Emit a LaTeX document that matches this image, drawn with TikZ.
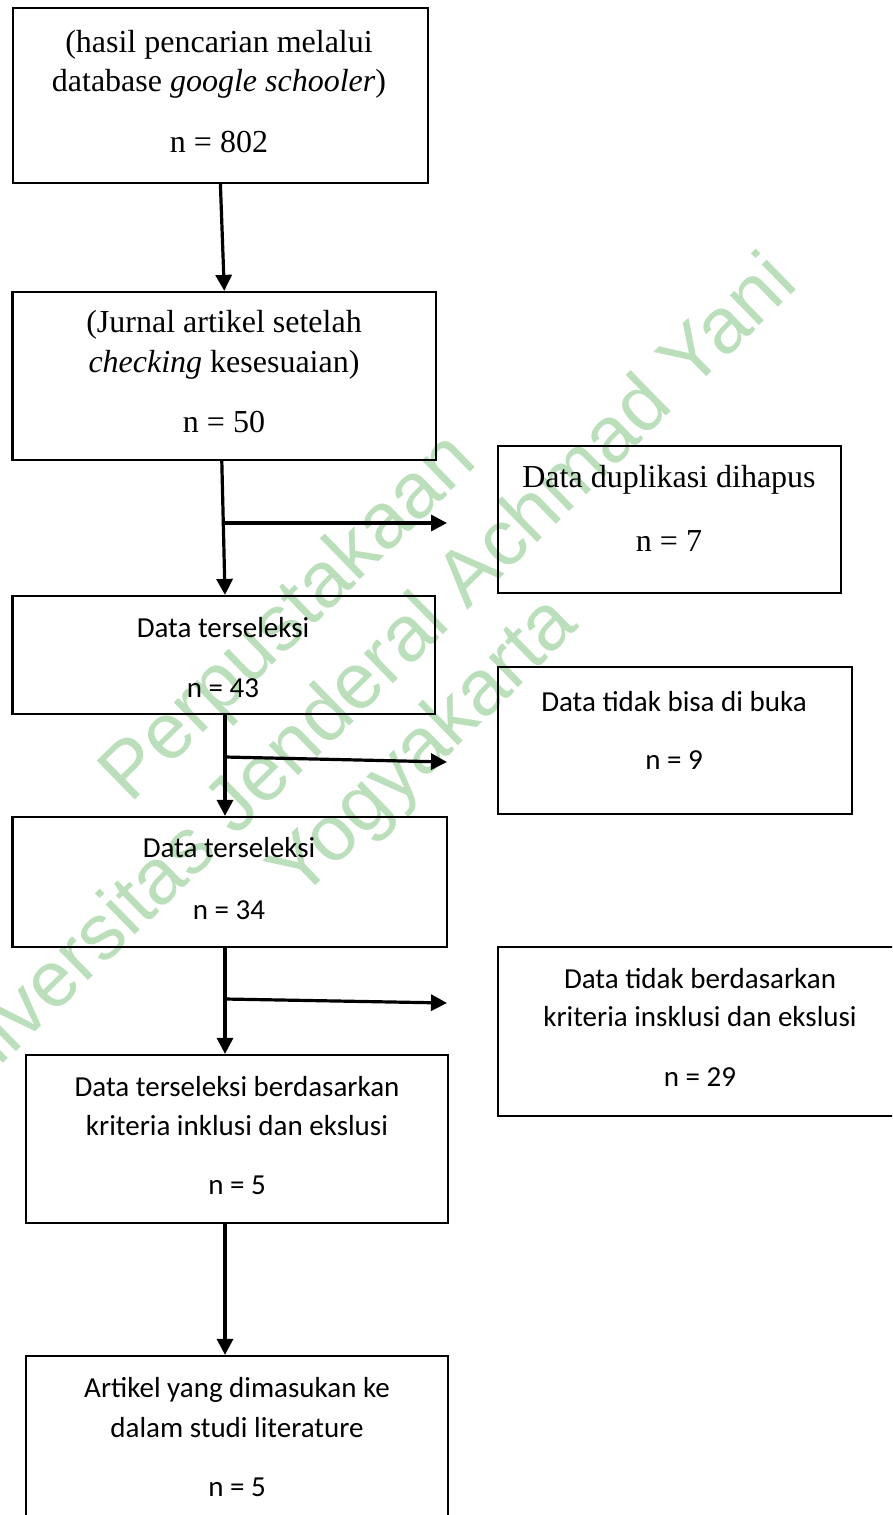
\documentclass[tikz,border=0pt]{standalone}
\usepackage{fontspec}
\setmainfont{Liberation Serif}
\newfontfamily\calfont{Carlito}
\newfontfamily\wmfont{Liberation Sans}
\usetikzlibrary{arrows.meta}
\definecolor{wmgreen}{RGB}{186,223,186}
\begin{document}
\begin{tikzpicture}[x=1pt,y=-1pt,
  box/.style={draw, line width=2.2pt, inner sep=0pt},
  ser/.style={anchor=base, inner sep=0pt, font=\fontsize{32}{38}\selectfont},
  cal/.style={anchor=base, inner sep=0pt, font=\calfont\fontsize{29}{35}\selectfont},
  arr/.style={line width=3.2pt, -{Triangle[length=16pt,width=16pt]}},
  wm/.style={anchor=base, rotate=44.3, inner sep=0pt, text=wmgreen, font=\wmfont\fontsize{79}{90}\selectfont}]
\useasboundingbox (0,0) rectangle (892,1515);
\clip (0,0) rectangle (892,1515);
\fill[white] (0,0) rectangle (892,1515);

% watermark
\node[wm] (w1) at (305,634) {Perpustakaan};
\node[wm] (w2) at (370,706) {Universitas Jenderal Achmad Yani};
\node[wm] (w3) at (440,764) {Yogyakarta};

% boxes
\node[box, minimum width=415.3pt, minimum height=175pt] (b1) at (220.4,95.5) {};
\node[box, minimum width=423.5pt, minimum height=168pt] (b2) at (224.3,376) {};
\node[box, minimum width=343pt, minimum height=147pt] (b3) at (669.5,519.5) {};
\node[box, minimum width=422.5pt, minimum height=118pt] (b4) at (223.8,655) {};
\node[box, minimum width=354pt, minimum height=147pt] (b5) at (675,740.5) {};
\node[box, minimum width=434.5pt, minimum height=130pt] (b6) at (229.8,882) {};
\node[box, minimum width=404pt, minimum height=169pt] (b7) at (700,1031.5) {};
\node[box, minimum width=422pt, minimum height=168pt] (b8) at (237,1139) {};
\node[box, minimum width=422pt, minimum height=174pt] (b9) at (237,1443) {};

% texts
\node[ser] (t1a) at (219,52) {(hasil pencarian melalui};
\node[ser] (t1b) at (219,91) {database \textit{google schooler})};
\node[ser] (t1c) at (219,152) {n = 802};

\node[ser] (t2a) at (224,332) {(Jurnal artikel setelah};
\node[ser] (t2b) at (224,372) {\textit{checking} kesesuaian)};
\node[ser] (t2c) at (224,432) {n = 50};

\node[ser] (t3a) at (669,487) {Data duplikasi dihapus};
\node[ser] (t3b) at (669,551) {n = 7};

\node[cal] (t4a) at (223,637) {Data terseleksi};
\node[cal] (t4b) at (223,697) {n = 43};

\node[cal] (t5a) at (674,711) {Data tidak bisa di buka};
\node[cal] (t5b) at (674,769) {n = 9};

\node[cal] (t6a) at (229,857) {Data terseleksi};
\node[cal] (t6b) at (229,919) {n = 34};

\node[cal] (t7a) at (700,988) {Data tidak berdasarkan};
\node[cal] (t7b) at (700,1026) {kriteria insklusi dan ekslusi};
\node[cal] (t7c) at (700,1086) {n = 29};

\node[cal] (t8a) at (237,1096) {Data terseleksi berdasarkan};
\node[cal] (t8b) at (237,1135) {kriteria inklusi dan ekslusi};
\node[cal] (t8c) at (237,1194) {n = 5};

\node[cal] (t9a) at (237,1397) {Artikel yang dimasukan ke};
\node[cal] (t9b) at (237,1437) {dalam studi literature};
\node[cal] (t9c) at (237,1496) {n = 5};

% connectors
\coordinate (sp) at (225,0);
\draw[arr] (b1.south) -- (b2.north);
\draw[arr] ([xshift=-2.5pt]b2.south) -- (sp |- b4.north);
\draw[arr] (sp |- b4.south) -- (sp |- b6.north);
\draw[arr] (sp |- b6.south) -- (sp |- b8.north);
\draw[arr] (sp |- b8.south) -- (sp |- b9.north);

\coordinate (j1) at (224,523);  \coordinate (e1) at (447,523);
\coordinate (j2) at (225,757);  \coordinate (e2) at (447,762);
\coordinate (j3) at (225,999);  \coordinate (e3) at (447,1003);
\draw[arr] (j1) -- (e1);
\draw[arr] (j2) -- (e2);
\draw[arr] (j3) -- (e3);
\end{tikzpicture}
\end{document}
